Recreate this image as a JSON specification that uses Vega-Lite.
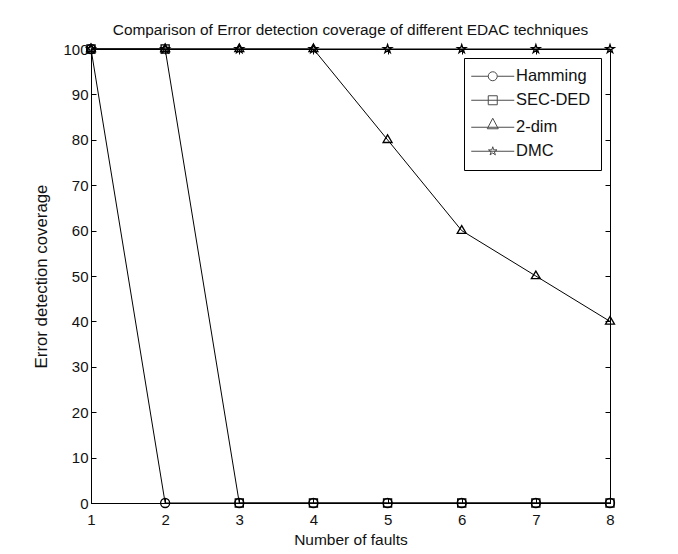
{
  "$schema": "https://vega.github.io/schema/vega-lite/v6.json",
  "width": 519,
  "height": 454,
  "autosize": "none",
  "padding": {"left": 91, "top": 49, "right": 68, "bottom": 51},
  "background": "white",
  "title": {
    "text": "Comparison of Error detection coverage of different EDAC techniques",
    "font": "Liberation Sans",
    "fontSize": 15.4,
    "fontWeight": "normal",
    "color": "#111111",
    "offset": 3
  },
  "data": {
    "values": [
      {"series": "Hamming", "faults": 1, "coverage": 100},
      {"series": "Hamming", "faults": 2, "coverage": 0},
      {"series": "Hamming", "faults": 3, "coverage": 0},
      {"series": "Hamming", "faults": 4, "coverage": 0},
      {"series": "Hamming", "faults": 5, "coverage": 0},
      {"series": "Hamming", "faults": 6, "coverage": 0},
      {"series": "Hamming", "faults": 7, "coverage": 0},
      {"series": "Hamming", "faults": 8, "coverage": 0},
      {"series": "SEC-DED", "faults": 1, "coverage": 100},
      {"series": "SEC-DED", "faults": 2, "coverage": 100},
      {"series": "SEC-DED", "faults": 3, "coverage": 0},
      {"series": "SEC-DED", "faults": 4, "coverage": 0},
      {"series": "SEC-DED", "faults": 5, "coverage": 0},
      {"series": "SEC-DED", "faults": 6, "coverage": 0},
      {"series": "SEC-DED", "faults": 7, "coverage": 0},
      {"series": "SEC-DED", "faults": 8, "coverage": 0},
      {"series": "2-dim", "faults": 1, "coverage": 100},
      {"series": "2-dim", "faults": 2, "coverage": 100},
      {"series": "2-dim", "faults": 3, "coverage": 100},
      {"series": "2-dim", "faults": 4, "coverage": 100},
      {"series": "2-dim", "faults": 5, "coverage": 80},
      {"series": "2-dim", "faults": 6, "coverage": 60},
      {"series": "2-dim", "faults": 7, "coverage": 50},
      {"series": "2-dim", "faults": 8, "coverage": 40},
      {"series": "DMC", "faults": 1, "coverage": 100},
      {"series": "DMC", "faults": 2, "coverage": 100},
      {"series": "DMC", "faults": 3, "coverage": 100},
      {"series": "DMC", "faults": 4, "coverage": 100},
      {"series": "DMC", "faults": 5, "coverage": 100},
      {"series": "DMC", "faults": 6, "coverage": 100},
      {"series": "DMC", "faults": 7, "coverage": 100},
      {"series": "DMC", "faults": 8, "coverage": 100}
    ]
  },
  "layer": [
    {
      "mark": {"type": "line", "color": "black", "strokeWidth": 1},
      "encoding": {
        "x": {
          "field": "faults", "type": "quantitative",
          "scale": {"domain": [1, 8], "nice": false, "zero": false},
          "axis": {
            "title": "Number of faults", "values": [1, 2, 3, 4, 5, 6, 7, 8], "format": "d",
            "grid": false, "tickSize": -5, "labelPadding": 14, "titlePadding": 5, "labelFlush": false,
            "domainColor": "black", "tickColor": "black",
            "labelFont": "Liberation Sans", "labelFontSize": 15, "labelColor": "#111111",
            "titleFont": "Liberation Sans", "titleFontSize": 15.5, "titleFontWeight": "normal", "titleColor": "#111111"
          }
        },
        "y": {
          "field": "coverage", "type": "quantitative",
          "scale": {"domain": [0, 100], "nice": false},
          "axis": {
            "title": "Error detection coverage", "values": [0, 10, 20, 30, 40, 50, 60, 70, 80, 90, 100],
            "grid": false, "tickSize": -5, "labelPadding": 8, "titlePadding": 12, "labelFlush": false,
            "domainColor": "black", "tickColor": "black",
            "labelFont": "Liberation Sans", "labelFontSize": 15, "labelColor": "#111111",
            "titleFont": "Liberation Sans", "titleFontSize": 16.8, "titleFontWeight": "normal", "titleColor": "#111111"
          }
        },
        "detail": {"field": "series"}
      }
    },
    {
      "mark": {"type": "point", "filled": false, "color": "black", "strokeWidth": 1.3, "size": 81, "opacity": 1},
      "encoding": {
        "x": {"field": "faults", "type": "quantitative", "axis": null},
        "y": {"field": "coverage", "type": "quantitative", "axis": null},
        "shape": {
          "field": "series", "type": "nominal",
          "scale": {
            "domain": ["Hamming", "SEC-DED", "2-dim", "DMC"],
            "range": [
              "M-1,0A1,1,0,1,1,1,0A1,1,0,1,1,-1,0Z",
              "M-0.9,-0.9H0.9V0.9H-0.9Z",
              "M0,-1.1L1,0.6H-1Z",
              "M0,-1L0.225,-0.309L0.951,-0.309L0.363,0.118L0.588,0.809L0,0.382L-0.588,0.809L-0.363,0.118L-0.951,-0.309L-0.225,-0.309Z"
            ]
          },
          "legend": null
        }
      }
    },
    {
      "transform": [{"filter": "datum.coverage > 1000"}],
      "mark": {"type": "point", "filled": false, "color": "black", "strokeWidth": 1, "size": 100},
      "encoding": {
        "x": {"field": "faults", "type": "quantitative", "axis": null},
        "y": {"field": "coverage", "type": "quantitative", "axis": null},
        "shape": {
          "field": "series", "type": "nominal",
          "scale": {
            "domain": ["Hamming", "SEC-DED", "2-dim", "DMC"],
            "range": [
              "M-4.3,0H-0.9M0.9,0H4.3M-0.9,0A0.9,0.9,0,1,1,0.9,0A0.9,0.9,0,1,1,-0.9,0Z",
              "M-4.3,0H4.3M-0.9,-0.9H0.9V0.9H-0.9Z",
              "M-4.3,0H4.3M0,-1.8L1.1,0.3H-1.1Z",
              "M-4.3,0H4.3M0,-0.9L0.2,-0.278L0.856,-0.278L0.327,0.106L0.529,0.728L0,0.344L-0.529,0.728L-0.327,0.106L-0.856,-0.278L-0.2,-0.278Z"
            ]
          },
          "legend": {
            "title": null, "orient": "top-right", "offset": 9,
            "strokeColor": "black", "fillColor": "white", "padding": 10,
            "symbolOffset": 10.5, "labelOffset": 15, "rowPadding": 7,
            "symbolSize": 100, "symbolStrokeWidth": 1, "symbolStrokeColor": "black",
            "labelFont": "Liberation Sans", "labelFontSize": 16.5, "labelColor": "#111111"
          }
        }
      }
    },
    {
      "mark": {"type": "point", "opacity": 0},
      "encoding": {
        "x": {
          "field": "faults", "type": "quantitative",
          "axis": {"orient": "top", "values": [1, 2, 3, 4, 5, 6, 7, 8], "labels": false, "title": null, "grid": false, "tickSize": -5, "domainColor": "black", "tickColor": "black"}
        },
        "y": {
          "field": "coverage", "type": "quantitative",
          "axis": {"orient": "right", "values": [0, 10, 20, 30, 40, 50, 60, 70, 80, 90, 100], "labels": false, "title": null, "grid": false, "tickSize": -5, "domainColor": "black", "tickColor": "black"}
        }
      }
    }
  ],
  "resolve": {"axis": {"x": "independent", "y": "independent"}, "scale": {"shape": "independent"}},
  "config": {"view": {"stroke": "black", "strokeWidth": 1}}
}
